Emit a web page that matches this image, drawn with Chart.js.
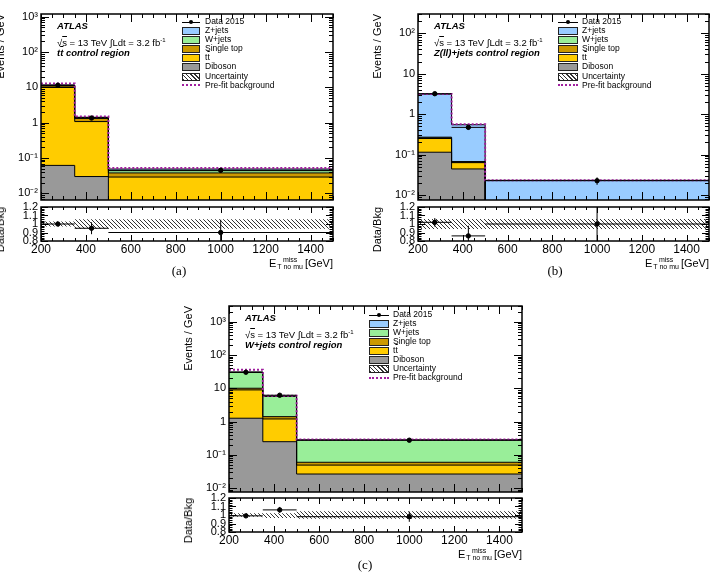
<!DOCTYPE html>
<html lang="en">
<head>
<meta charset="UTF-8">
<title>Control regions</title>
<script src="https://cdn.jsdelivr.net/npm/chart.js"></script>
<style>
  body { margin: 0; background: #fff; }
  #page { position: relative; width: 715px; height: 574px; overflow: hidden; font-family: "Liberation Sans", Arial, sans-serif; color: #000; }
  canvas { position: absolute; }
  .t { position: absolute; white-space: nowrap; }
  .atlas { font-size: 9.5px; line-height: 12px; font-weight: bold; font-style: italic; }
  .info { font-size: 9.5px; line-height: 12px; }
  .lg { position: absolute; white-space: nowrap; font-size: 8.5px; line-height: 10px; }
  .box { position: absolute; height: 6px; border: 1px solid #222; }
  .ov { text-decoration: overline; }
  .ytitle { position: absolute; white-space: nowrap; font-size: 11px; line-height: 12px; transform-origin: 0 0; transform: rotate(-90deg) translate(-100%, -50%); }
  .xtitle { position: absolute; white-space: nowrap; font-size: 11px; line-height: 14px; }
  .ss { display: inline-block; vertical-align: -2px; font-size: 7px; line-height: 7px; text-align: center; margin: 0 2px 0 1px; }
  .ss span { display: block; }
  .cap { position: absolute; width: 40px; text-align: center; font-family: "Liberation Serif", serif; font-size: 13px; line-height: 16px; }
</style>
</head>
<body>
<div id="page"></div>
<script>
// binning (GeV)
const binEdges = [200, 350, 500, 1500];
const binCentres = [275, 425, 1000];
const xTickVals = [200, 400, 600, 800, 1000, 1200, 1400];
const xTickLabels = ['200', '400', '600', '800', '1000', '1200', '1400'];
const ratioTicks = [0.8, 0.9, 1.0, 1.1, 1.2];
const ratioTickLabels = ['0.8', '0.9', '1', '1.1', '1.2'];

// (a) ttbar control region, Events / GeV per component
const dibosonA = [0.062, 0.030, 0.003];
const ttbarA = [9.9, 1.05, 0.026];
const singleTopA = [1.0, 0.25, 0.009];
const wjetsA = [0.45, 0.07, 0.006];
const zjetsA = [0.25, 0.03, 0.005];
const dataA = [11.6, 1.36, 0.045];
const dataErrA = [0.28, 0.095, 0.007];
const prefitA = [13.0, 1.5, 0.052];
const ratioA = [1.0, 0.95, 0.90];
const ratioErrA = [0.025, 0.07, 0.15];
const uncLoA = [0.97, 0.945, 0.945];
const uncHiA = [1.03, 1.055, 1.055];
const yTicksA = [0.01, 0.1, 1, 10, 100, 1000];
const yLabelsA = ['10⁻²', '10⁻¹', '1', '10', '10²', '10³'];

// (b) Z(ll)+jets control region
const dibosonB = [0.114, 0.044, 0.0015];
const ttbarB = [0.135, 0.019, 0.0015];
const singleTopB = [0.01, 0.002, 0.0005];
const wjetsB = [0.01, 0.002, 0.0005];
const zjetsB = [2.85, 0.48, 0.019];
const dataB = [3.2, 0.47, 0.0225];
const dataErrB = [0.146, 0.056, 0.0047];
const prefitB = [3.15, 0.56, 0.023];
const ratioB = [1.02, 0.86, 1.0];
const ratioErrB = [0.05, 0.12, 0.22];
const uncLoB = [0.94, 0.94, 0.94];
const uncHiB = [1.06, 1.06, 1.06];
const yTicksB = [0.01, 0.1, 1, 10, 100];
const yLabelsB = ['10⁻²', '10⁻¹', '1', '10', '10²'];

// (c) W+jets control region
const dibosonC = [1.26, 0.248, 0.0264];
const ttbarC = [7.7, 0.95, 0.0226];
const singleTopC = [1.1, 0.21, 0.0106];
const wjetsC = [20.24, 4.34, 0.217];
const zjetsC = [0.5, 0.1, 0.003];
const dataC = [30.5, 6.2, 0.275];
const dataErrC = [0.46, 0.2, 0.0166];
const prefitC = [36, 6.0, 0.29];
const ratioC = [0.99, 1.06, 0.98];
const ratioErrC = [0.015, 0.035, 0.06];
const uncLoC = [0.98, 0.965, 0.955];
const uncHiC = [1.02, 1.02, 1.045];
const yTicksC = [0.01, 0.1, 1, 10, 100, 1000];
const yLabelsC = ['10⁻²', '10⁻¹', '1', '10', '10²', '10³'];

const stackColours = ['#999999', '#ffcc00', '#cc9900', '#99ee99', '#99ccff']; // diboson, ttbar, single top, W, Z
const prefitColour = '#a0209f';
const legendLabels = ['Data 2015', 'Z+jets', 'W+jets', 'Single top', 't<span class="ov">t</span>', 'Diboson', 'Uncertainty', 'Pre-fit background'];

Chart.defaults.font.family = '"Liberation Sans", Arial, sans-serif';
Chart.defaults.color = '#000';

const page = document.getElementById('page');

// hatch tile for the uncertainty band
const tile = document.createElement('canvas');
tile.width = tile.height = 4;
(function () {
    const g = tile.getContext('2d');
    g.strokeStyle = '#333';
    g.lineWidth = 1;
    g.beginPath();
    g.moveTo(-1, -1); g.lineTo(5, 5);
    g.moveTo(-1, 3); g.lineTo(1, 5);
    g.moveTo(3, -1); g.lineTo(5, 1);
    g.stroke();
})();

function cumulate(parts) {
    let run = [0, 0, 0];
    return parts.map(p => run = run.map((r, i) => r + p[i]));
}
function steps(vals) {
    return binEdges.map((x, i) => ({ x: x, y: vals[Math.min(i, vals.length - 1)] }));
}
function points(vals) {
    return binCentres.map((x, i) => ({ x: x, y: vals[i] }));
}
function linTicks(lo, hi, step, majors, majLen, minLen) {
    const out = [];
    for (let v = lo; v <= hi + 1e-9; v += step) {
        const r = Math.round(v * 1000) / 1000;
        out.push([r, majors.some(m => Math.abs(m - r) < 1e-9) ? majLen : minLen]);
    }
    return out;
}
function logTicks(lo, hi, majLen, minLen) {
    const out = [];
    for (let e = Math.floor(Math.log10(lo)); e <= Math.ceil(Math.log10(hi)); e++) {
        for (let k = 1; k <= 9; k++) {
            const v = k * Math.pow(10, e);
            if (v >= lo && v <= hi) out.push([v, k === 1 ? majLen : minLen]);
        }
    }
    return out;
}

// frame with inward ticks on all four sides
function framePlugin(xTicks, yTicks) {
    return {
        id: 'frame',
        afterDraw(chart) {
            const { ctx, chartArea: a, scales: { x, y } } = chart;
            ctx.save();
            ctx.strokeStyle = '#000';
            ctx.lineWidth = 1;
            ctx.beginPath();
            xTicks.forEach(([v, len]) => {
                const px = Math.round(x.getPixelForValue(v)) + 0.5;
                ctx.moveTo(px, a.bottom); ctx.lineTo(px, a.bottom - len);
                ctx.moveTo(px, a.top); ctx.lineTo(px, a.top + len);
            });
            yTicks.forEach(([v, len]) => {
                const py = Math.round(y.getPixelForValue(v)) + 0.5;
                ctx.moveTo(a.left, py); ctx.lineTo(a.left + len, py);
                ctx.moveTo(a.right, py); ctx.lineTo(a.right - len, py);
            });
            ctx.stroke();
            ctx.lineWidth = 1.5;
            ctx.strokeRect(a.left, a.top, a.right - a.left, a.bottom - a.top);
            ctx.restore();
        }
    };
}

// data error bars: bin width horizontally, yErr vertically
const errorBars = {
    id: 'errorBars',
    afterDatasetsDraw(chart) {
        const { ctx, chartArea: a, scales: { x, y } } = chart;
        ctx.save();
        ctx.beginPath();
        ctx.rect(a.left, a.top, a.right - a.left, a.bottom - a.top);
        ctx.clip();
        ctx.strokeStyle = '#000';
        ctx.lineWidth = 1;
        chart.data.datasets.forEach(ds => {
            if (!ds.yErr) return;
            ds.data.forEach((p, i) => {
                const px = x.getPixelForValue(p.x), py = y.getPixelForValue(p.y);
                ctx.beginPath();
                ctx.moveTo(x.getPixelForValue(binEdges[i]), py);
                ctx.lineTo(x.getPixelForValue(binEdges[i + 1]), py);
                ctx.moveTo(px, y.getPixelForValue(p.y - ds.yErr[i]));
                ctx.lineTo(px, y.getPixelForValue(p.y + ds.yErr[i]));
                ctx.stroke();
            });
        });
        ctx.restore();
    }
};

function addCanvas(f, padBottom) {
    const c = document.createElement('canvas');
    c.width = 40 + f.w + 6;
    c.height = 10 + f.h + padBottom;
    c.style.left = (f.l - 40) + 'px';
    c.style.top = (f.t - 10) + 'px';
    page.appendChild(c);
    return c;
}

function yAxis(ticks, labels) {
    return {
        grid: { display: false, drawTicks: false },
        border: { display: false },
        afterBuildTicks: s => { s.ticks = ticks.map(v => ({ value: v })); },
        afterFit: s => { s.width = 40; },
        ticks: { padding: 3, autoSkip: false, font: { size: 11 }, callback: (v, i) => labels[i] }
    };
}

const baseOptions = {
    responsive: false,
    animation: false,
    devicePixelRatio: 1,
    elements: { line: { tension: 0 } },
};

function drawMain(f, parts, data, dataErr, prefit, yMin, yMax, yTicks, yLabels) {
    const canvas = addCanvas(f, 10);
    const datasets = cumulate(parts).map((tot, i) => ({
        data: steps(tot), stepped: true, fill: i === 0 ? 'start' : '-1',
        backgroundColor: stackColours[i], borderColor: '#000', borderWidth: 1, pointRadius: 0, order: 2
    }));
    datasets.push({ data: steps(prefit), stepped: true, fill: false, borderColor: prefitColour, borderWidth: 2, borderDash: [2, 2], pointRadius: 0, order: 1 });
    datasets.push({ data: points(data), yErr: dataErr, showLine: false, pointRadius: 2.2, pointBackgroundColor: '#000', pointBorderColor: '#000', borderColor: '#000', order: 0 });
    new Chart(canvas, {
        type: 'line',
        data: { datasets: datasets },
        options: Object.assign({}, baseOptions, {
            layout: { padding: { top: 10, right: 6, bottom: 10, left: 0 } },
            plugins: { legend: { display: false }, tooltip: { enabled: false }, filler: { drawTime: 'beforeDatasetsDraw' } },
            scales: {
                x: { type: 'linear', min: 200, max: 1500, display: false },
                y: Object.assign({ type: 'logarithmic', min: yMin, max: yMax }, yAxis(yTicks, yLabels))
            }
        }),
        plugins: [errorBars, framePlugin(linTicks(200, 1500, 50, xTickVals, 8, 4), logTicks(yMin, yMax, 8, 4))]
    });
}

function drawRatio(f, ratio, ratioErr, lo, hi) {
    const canvas = addCanvas(f, 18);
    const pattern = canvas.getContext('2d').createPattern(tile, 'repeat');
    new Chart(canvas, {
        type: 'line',
        data: {
            datasets: [
                { data: steps(lo), stepped: true, fill: false, borderColor: 'transparent', borderWidth: 0, pointRadius: 0, order: 2 },
                { data: steps(hi), stepped: true, fill: '-1', backgroundColor: pattern, borderColor: 'transparent', borderWidth: 0, pointRadius: 0, order: 2 },
                { data: points(ratio), yErr: ratioErr, showLine: false, pointRadius: 2.2, pointBackgroundColor: '#000', pointBorderColor: '#000', borderColor: '#000', order: 0 }
            ]
        },
        options: Object.assign({}, baseOptions, {
            layout: { padding: { top: 10, right: 6, bottom: 0, left: 0 } },
            plugins: { legend: { display: false }, tooltip: { enabled: false }, filler: { drawTime: 'beforeDatasetsDraw' } },
            scales: {
                x: {
                    type: 'linear', min: 200, max: 1500,
                    grid: { display: false, drawTicks: false },
                    border: { display: false },
                    afterBuildTicks: s => { s.ticks = xTickVals.map(v => ({ value: v })); },
                    afterFit: s => { s.height = 18; },
                    ticks: { padding: 1, maxRotation: 0, autoSkip: false, font: { size: 12 }, callback: (v, i) => xTickLabels[i] }
                },
                y: Object.assign({ type: 'linear', min: 0.8, max: 1.2 }, yAxis(ratioTicks, ratioTickLabels))
            }
        }),
        plugins: [errorBars, framePlugin(linTicks(200, 1500, 50, xTickVals, 6, 3), linTicks(0.8, 1.2, 0.02, ratioTicks, 7, 3.5))]
    });
}

function addHtml(cls, style, html) {
    const d = document.createElement('div');
    d.className = cls;
    d.style.cssText = style;
    d.innerHTML = html;
    page.appendChild(d);
}

function drawLabels(x0, y0, region) {
    addHtml('t atlas', `left:${x0}px;top:${y0 - 6}px`, 'ATLAS');
    addHtml('t info', `left:${x0}px;top:${y0 + 8}px`, '√<span class="ov">s</span> = 13 TeV &#8747;Ldt = 3.2 fb<sup style="font-size:6px">-1</sup>');
    addHtml('t atlas', `left:${x0}px;top:${y0 + 21}px`, region);
}

function drawLegend(boxL, textL, top0, w) {
    legendLabels.forEach((label, i) => {
        const cy = top0 + i * 9.05;
        if (i === 0) {
            addHtml('t', `left:${boxL}px;top:${cy}px;width:${w}px;height:1px;background:#000`, '');
            addHtml('t', `left:${boxL + w / 2 - 2}px;top:${cy - 1.5}px;width:4px;height:4px;border-radius:50%;background:#000`, '');
        } else if (i === 6) {
            addHtml('box', `left:${boxL}px;top:${cy - 3.5}px;width:${w - 2}px;background:repeating-linear-gradient(45deg,#333 0 1px,#fff 1px 3px)`, '');
        } else if (i === 7) {
            addHtml('t', `left:${boxL}px;top:${cy - 1}px;width:${w}px;border-top:2px dotted ${prefitColour}`, '');
        } else {
            addHtml('box', `left:${boxL}px;top:${cy - 3.5}px;width:${w - 2}px;background:${stackColours[5 - i]}`, '');
        }
        addHtml('lg', `left:${textL}px;top:${cy - 5.5}px`, label);
    });
}

function drawTitles(f, r, yTitleX) {
    addHtml('ytitle', `left:${yTitleX}px;top:${f.t}px`, 'Events / GeV');
    addHtml('ytitle', `left:${yTitleX}px;top:${r.t}px`, 'Data/Bkg');
    addHtml('xtitle', `right:${715 - (r.l + r.w)}px;top:${r.t + r.h + 15}px`, 'E<span class="ss"><span>miss</span><span>T no mu</span></span>[GeV]');
}

// panel frames (page pixels)
const mainA = { l: 41, t: 14, w: 292, h: 186 }, ratA = { l: 41, t: 207, w: 292, h: 34 };
const mainB = { l: 418, t: 14, w: 291, h: 186 }, ratB = { l: 418, t: 207, w: 291, h: 34 };
const mainC = { l: 229, t: 306, w: 293, h: 186 }, ratC = { l: 229, t: 498, w: 293, h: 34 };

drawMain(mainA, [dibosonA, ttbarA, singleTopA, wjetsA, zjetsA], dataA, dataErrA, prefitA, 0.0065, 1200, yTicksA, yLabelsA);
drawRatio(ratA, ratioA, ratioErrA, uncLoA, uncHiA);
drawMain(mainB, [dibosonB, ttbarB, singleTopB, wjetsB, zjetsB], dataB, dataErrB, prefitB, 0.0075, 300, yTicksB, yLabelsB);
drawRatio(ratB, ratioB, ratioErrB, uncLoB, uncHiB);
drawMain(mainC, [dibosonC, ttbarC, singleTopC, wjetsC, zjetsC], dataC, dataErrC, prefitC, 0.0076, 3000, yTicksC, yLabelsC);
drawRatio(ratC, ratioC, ratioErrC, uncLoC, uncHiC);

drawLabels(57, 26, 't<span class="ov">t</span> control region');
drawLabels(434, 26, 'Z(ll)+jets control region');
drawLabels(245, 318, 'W+jets control region');

drawLegend(182, 205, 21.7, 18);
drawLegend(558, 582, 21.7, 20);
drawLegend(369, 393, 314.5, 20);

drawTitles(mainA, ratA, 0);
drawTitles(mainB, ratB, 377);
drawTitles(mainC, ratC, 188);

addHtml('cap', 'left:159px;top:263px', '(a)');
addHtml('cap', 'left:535px;top:263px', '(b)');
addHtml('cap', 'left:345px;top:557px', '(c)');
</script>
</body>
</html>
